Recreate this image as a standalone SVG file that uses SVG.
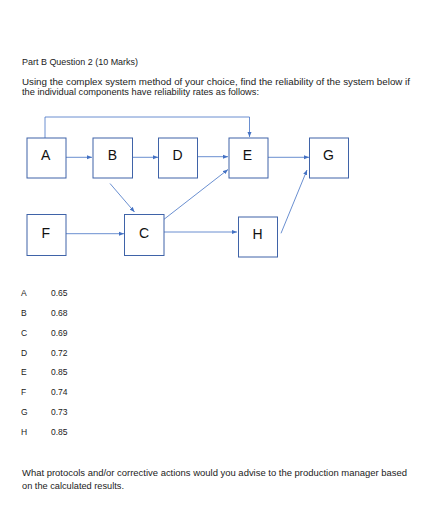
<svg xmlns="http://www.w3.org/2000/svg" width="425" height="530" viewBox="0 0 425 530">
<defs>
<marker id="arr" viewBox="0 0 10 10" refX="10" refY="5" markerWidth="5" markerHeight="5" orient="auto" markerUnits="userSpaceOnUse">
<path d="M0,1 L10,5 L0,9 z" fill="#4472C4"/>
</marker>
<style>
.t{font-family:"Liberation Sans",Arial,sans-serif;font-size:9px;fill:#222}
.s{font-family:"Liberation Sans",Arial,sans-serif;font-size:8.5px;fill:#222}
.box{fill:#fff;stroke:#3f63a8;stroke-width:1}
.lbl{font-family:"Liberation Sans",Arial,sans-serif;font-size:14px;fill:#111;text-anchor:middle}
.c{fill:none;stroke:#4472C4;stroke-width:0.8}
</style>
</defs>
<rect width="425" height="530" fill="#fff"/>
<text class="t" x="22" y="65" textLength="116" lengthAdjust="spacingAndGlyphs">Part B Question 2 (10 Marks)</text>
<text class="t" x="22" y="85" textLength="388" lengthAdjust="spacingAndGlyphs">Using the complex system method of your choice, find the reliability of the system below if</text>
<text class="t" x="22" y="95" textLength="237" lengthAdjust="spacingAndGlyphs">the individual components have reliability rates as follows:</text>
<g id="connectors">
<polyline class="c" points="45,138 45,117 249.5,117 249.5,137" marker-end="url(#arr)"/>
<line class="c" x1="66" y1="157.3" x2="92" y2="157.3" marker-end="url(#arr)"/>
<line class="c" x1="132.5" y1="157.3" x2="158" y2="157.3" marker-end="url(#arr)"/>
<line class="c" x1="198" y1="156.7" x2="228" y2="156.7" marker-end="url(#arr)"/>
<line class="c" x1="110" y1="183.5" x2="134.5" y2="212" marker-end="url(#arr)"/>
<line class="c" x1="164" y1="219.3" x2="228" y2="169.5" marker-end="url(#arr)"/>
<line class="c" x1="268" y1="157.3" x2="309" y2="157.3" marker-end="url(#arr)"/>
<line class="c" x1="66" y1="233.7" x2="124" y2="233.7" marker-end="url(#arr)"/>
<line class="c" x1="164" y1="232" x2="237" y2="232" marker-end="url(#arr)"/>
<line class="c" x1="281" y1="233.3" x2="307" y2="170" marker-end="url(#arr)"/>
</g>
<g id="A"><rect class="box" x="27" y="138" width="39" height="40"/><text class="lbl" x="45.7" y="160">A</text></g>
<g id="B"><rect class="box" x="93" y="138" width="39.5" height="40"/><text class="lbl" x="112.5" y="160">B</text></g>
<g id="D"><rect class="box" x="158.5" y="138" width="39" height="40"/><text class="lbl" x="177.5" y="160">D</text></g>
<g id="E"><rect class="box" x="229" y="138" width="39" height="40"/><text class="lbl" x="247.5" y="160">E</text></g>
<g id="G"><rect class="box" x="309.5" y="138" width="39" height="40"/><text class="lbl" x="328.5" y="160">G</text></g>
<g id="F"><rect class="box" x="27" y="214.5" width="39" height="41"/><text class="lbl" x="45.7" y="238">F</text></g>
<g id="C"><rect class="box" x="124.5" y="214.5" width="39.5" height="41"/><text class="lbl" x="144" y="238">C</text></g>
<g id="H"><rect class="box" x="238.5" y="217" width="39" height="40"/><text class="lbl" x="257.5" y="239">H</text></g>
<g class="s">
<text x="21" y="296">A</text><text x="51" y="296">0.65</text>
<text x="21" y="316">B</text><text x="51" y="316">0.68</text>
<text x="21" y="336">C</text><text x="51" y="336">0.69</text>
<text x="21" y="355.5">D</text><text x="51" y="355.5">0.72</text>
<text x="21" y="375.3">E</text><text x="51" y="375.3">0.85</text>
<text x="21" y="395">F</text><text x="51" y="395">0.74</text>
<text x="21" y="415">G</text><text x="51" y="415">0.73</text>
<text x="21" y="434.7">H</text><text x="51" y="434.7">0.85</text>
</g>
<text class="t" x="22" y="475.5" textLength="385" lengthAdjust="spacingAndGlyphs">What protocols and/or corrective actions would you advise to the production manager based</text>
<text class="t" x="22" y="489" textLength="102" lengthAdjust="spacingAndGlyphs">on the calculated results.</text>
</svg>
